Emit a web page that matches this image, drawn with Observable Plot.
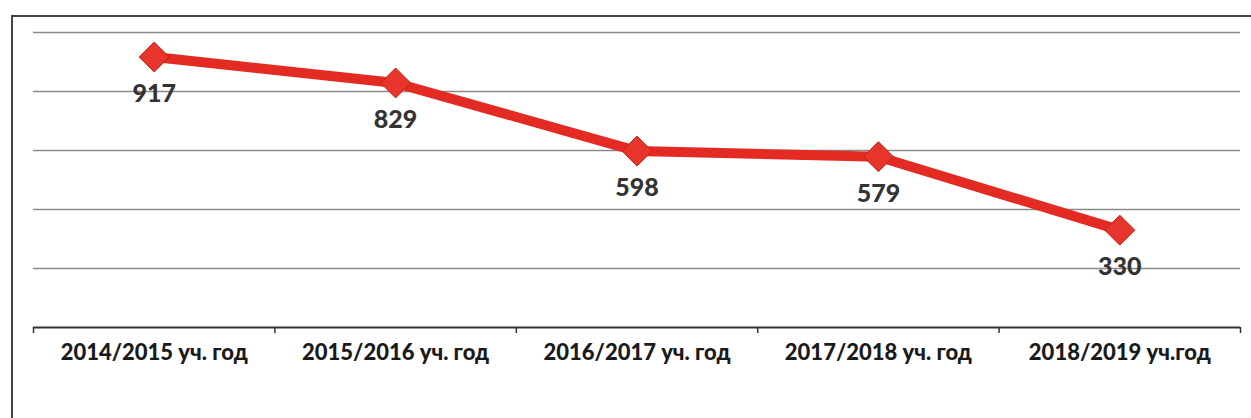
<!DOCTYPE html>
<html>
<head>
<meta charset="utf-8">
<script src="https://cdn.jsdelivr.net/npm/d3@7"></script>
<script src="https://cdn.jsdelivr.net/npm/@observablehq/plot@0.6"></script>
<style>
  html, body { margin: 0; padding: 0; background: #fff; }
  #wrap { position: relative; width: 1251px; height: 418px; overflow: hidden; }
  #frame { position: absolute; left: 11px; top: 15px; width: 1260px; height: 420px;
           border-left: 2px solid #444; border-top: 2px solid #444; pointer-events: none; }
  svg { display: block; }
</style>
</head>
<body>
<div id="wrap"><div id="frame"></div></div>
<script>
const categories = ["2014/2015 уч. год", "2015/2016 уч. год", "2016/2017 уч. год", "2017/2018 уч. год", "2018/2019 уч.год"];
const values = [917, 829, 598, 579, 330];
const yTicks = [200, 400, 600, 800, 1000];

const data = categories.map((c, i) => ({i, c, v: values[i]}));
const centers = categories.map((c, i) => i);
const boundaries = [...centers.map(i => i - 0.5), categories.length - 0.5];

const chart = Plot.plot({
  width: 1251,
  height: 418,
  marginLeft: 33,
  marginRight: 11,
  marginTop: 32,
  marginBottom: 91,
  style: {fontFamily: "Lato, 'Open Sans', sans-serif", background: "transparent"},
  x: {type: "linear", domain: [-0.5, categories.length - 0.5], label: null},
  y: {domain: [0, 1000], axis: null},
  marks: [
    Plot.gridY(yTicks, {stroke: "#8a8a8a", strokeOpacity: 1, strokeWidth: 1.5}),
    Plot.ruleY([0], {stroke: "#333", strokeWidth: 2}),
    Plot.axisX(boundaries, {tickSize: 6, tickFormat: () => "", label: null, stroke: "#333", strokeWidth: 1.5}),
    Plot.axisX(centers, {tickSize: 0, tickPadding: 17, tickFormat: i => categories[i], label: null,
      fontSize: 22, fontWeight: "900", fill: "#1a1a1a"}),
    Plot.line(data, {x: "i", y: "v", stroke: "#e32b24", strokeWidth: 10}),
    Plot.dot(data, {x: "i", y: "v", symbol: "diamond2", r: 13.5, fill: "#e8352c", stroke: "#c61f19", strokeWidth: 1}),
    Plot.text(data, {x: "i", y: "v", text: d => String(d.v), dy: 37, fontSize: 25, fontWeight: "900", fill: "#333"})
  ]
});
document.getElementById("wrap").appendChild(chart);
chart.style.position = "absolute";
chart.style.left = "0";
chart.style.top = "0";
</script>
</body>
</html>
